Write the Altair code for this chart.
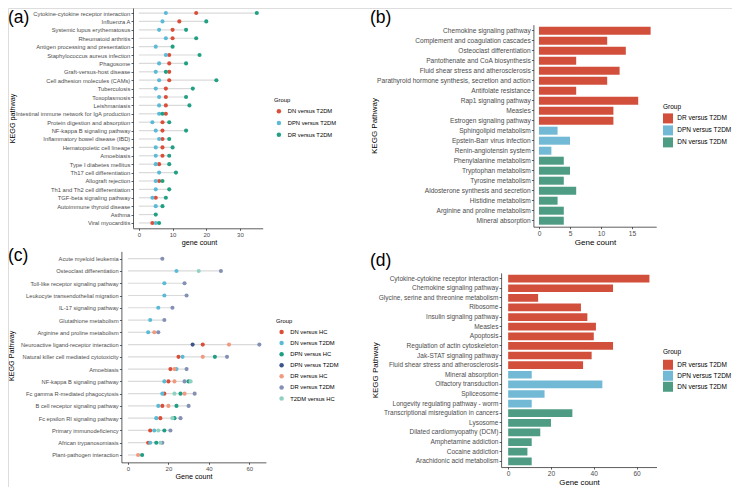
import altair as alt
import pandas as pd

FONT = "Liberation Sans"
OX, OY = 8, 8          # page offset of the svg origin
W, H = 724, 479        # whole drawing area (fits inside the page)

# ---------------- Panel (a) : lollipop ----------------
a_pathways = [
    "Cytokine-cytokine receptor interaction", "Influenza A", "Systemic lupus erythematosus",
    "Rheumatoid arthritis", "Antigen processing and presentation", "Staphylococcus aureus infection",
    "Phagosome", "Graft-versus-host disease", "Cell adhesion molecules (CAMs)", "Tuberculosis",
    "Toxoplasmosis", "Leishmaniasis", "Intestinal immune network for IgA production",
    "Protein digestion and absorption", "NF-kappa B signaling pathway",
    "Inflammatory bowel disease (IBD)", "Hematopoietic cell lineage", "Amoebiasis",
    "Type I diabetes mellitus", "Th17 cell differentiation", "Allograft rejection",
    "Th1 and Th2 cell differentiation", "TGF-beta signaling pathway",
    "Autoimmune thyroid disease", "Asthma", "Viral myocarditis"]
a_groups = ["DN versus T2DM", "DPN versus T2DM", "DR versus T2DM"]
a_dn = [17, 12, 10, 10, None, 9, 9, 9, 9, 8, 8, 8, 8, 7, 7, 7, 7, 7, 6, None, 6, None, 5, None, None, 4]
a_dpn = [8, 7, 6, 8, 5, 8, 6, 5, 6, 5, 6, 6, 6, 4, 5, 6, 5, 5, 5, 6, 5, 5, 4, 5, None, 5]
a_dr = [35, 20, 14, 17, 10, 18, 14, 8, 23, 16, 14, 15, 7, 9, 14, 9, 10, 9, 9, 11, 7, 9, 8, 7, 5, 6]
a_colors = ["#DA4F39", "#5DBAD6", "#22A083"]
a_ticks = [0, 10, 20, 30]

# ---------------- Panel (b) : bars ----------------
b_pathways = [
    "Chemokine signaling pathway", "Complement and coagulation cascades",
    "Osteoclast differentiation", "Pantothenate and CoA biosynthesis",
    "Fluid shear stress and atherosclerosis",
    "Parathyroid hormone synthesis, secretion and action", "Antifolate resistance",
    "Rap1 signaling pathway", "Measles", "Estrogen signaling pathway",
    "Sphingolipid metabolism", "Epstein-Barr virus infection", "Renin-angiotensin system",
    "Phenylalanine metabolism", "Tryptophan metabolism", "Tyrosine metabolism",
    "Aldosterone synthesis and secretion", "Histidine metabolism",
    "Arginine and proline metabolism", "Mineral absorption"]
b_counts = [18, 11, 14, 6, 13, 11, 6, 16, 12, 12, 3, 5, 2, 4, 5, 4, 6, 3, 4, 4]
b_group_of = ["DR versus T2DM"] * 10 + ["DPN versus T2DM"] * 3 + ["DN versus T2DM"] * 7
bar_groups = ["DR versus T2DM", "DPN versus T2DM", "DN versus T2DM"]
bar_colors = ["#D24F3C", "#72B9D6", "#4E9C83"]
b_ticks = [0, 5, 10, 15]

# ---------------- Panel (c) : lollipop ----------------
c_pathways = [
    "Acute myeloid leukemia", "Osteoclast differentiation", "Toll-like receptor signaling pathway",
    "Leukocyte transendothelial migration", "IL-17 signaling pathway", "Glutathione metabolism",
    "Arginine and proline metabolism", "Neuroactive ligand-receptor interaction",
    "Natural killer cell mediated cytotoxicity", "Amoebiasis", "NF-kappa B signaling pathway",
    "Fc gamma R-mediated phagocytosis", "B cell receptor signaling pathway",
    "Fc epsilon RI signaling pathway", "Primary immunodeficiency", "African trypanosomiasis",
    "Plant-pathogen interaction"]
c_groups = ["DN versus HC", "DN versus T2DM", "DPN versus HC", "DPN versus T2DM",
            "DR versus HC", "DR versus T2DM", "T2DM versus HC"]
c_dn_hc = [None, None, None, None, None, None, None, 37, 25, 21, 20, 18, 17, 16, 11, 10, None]
c_dn_t2dm = [None, 24, 18, 18, 15, 11, 10, None, 27, 24, 18, 17, 15, 14, 13, 11, None]
c_dpn_hc = [None, None, None, None, None, None, None, None, 43, None, 30, 26, 24, 23, 18, 14, 7]
c_dpn_t2dm = [None, None, None, None, None, None, None, 32, None, None, None, None, None, None, None, None, None]
c_dr_hc = [None, None, None, None, None, None, 13, 50, 37, 23, 23, 28, 20, None, None, None, 5]
c_dr_t2dm = [17, 46, 28, 29, 22, 18, 15, 65, 49, 29, 28, 33, 30, 26, 21, 17, None]
c_t2dm_hc = [None, 35, None, None, None, None, None, None, None, None, 31, 23, None, 22, 15, 16, None]
c_colors = ["#DC4E37", "#5BBBD6", "#1E9E82", "#3C5488", "#F09A7F", "#8491B4", "#91D1C2"]
c_ticks = [0, 20, 40, 60]

# ---------------- Panel (d) : bars ----------------
d_pathways = [
    "Cytokine-cytokine receptor interaction", "Chemokine signaling pathway",
    "Glycine, serine and threonine metabolism", "Ribosome", "Insulin signaling pathway",
    "Measles", "Apoptosis", "Regulation of actin cytoskeleton", "Jak-STAT signaling pathway",
    "Fluid shear stress and atherosclerosis", "Mineral absorption", "Olfactory transduction",
    "Spliceosome", "Longevity regulating pathway - worm",
    "Transcriptional misregulation in cancers", "Lysosome", "Dilated cardiomyopathy (DCM)",
    "Amphetamine addiction", "Cocaine addiction", "Arachidonic acid metabolism"]
d_counts = [66, 49, 14, 34, 37, 41, 40, 49, 39, 35, 11, 44, 17, 11, 30, 20, 15, 11, 9, 11]
d_group_of = ["DR versus T2DM"] * 10 + ["DPN versus T2DM"] * 4 + ["DN versus T2DM"] * 6
d_ticks = [0, 20, 40, 60]

panel_labels = ["(a)", "(b)", "(c)", "(d)"]


def long_df(pathways, groups, series):
    rows = []
    for g, vals in zip(groups, series):
        for p, v in zip(pathways, vals):
            if v is not None:
                rows.append({"pathway": p, "group": g, "count": v})
    return pd.DataFrame(rows)


def seg_df(pathways, series):
    rows = []
    for i, p in enumerate(pathways):
        vals = [s[i] for s in series if s[i] is not None]
        rows.append({"pathway": p, "start": 0, "end": max(vals)})
    return pd.DataFrame(rows)


def cy(y):
    # slight vertical compression of the lower row so that it fits the page
    return 245 + (y - 245) * 0.96


AX = dict(labelFont=FONT, labelColor="#4D4D4D", domainColor="#1A1A1A", domainWidth=0.7,
          tickColor="#1A1A1A", tickWidth=0.7, tickSize=2, grid=False,
          titleFont=FONT, titleFontWeight="normal", titleColor="#000000",
          titleAlign="center", titleBaseline="middle", labelOverlap=False)


def x_axis(y_page, values, lsize, title, tx, ty, tsize):
    return alt.Axis(orient="bottom", offset=(y_page - OY) - H, values=values, format="d",
                    labelFontSize=lsize, labelPadding=1.5, labelFlush=False,
                    title=title, titleX=tx - OX, titleY=ty - y_page, titleAngle=0,
                    titleFontSize=tsize, **AX)


def y_axis(x_page, lsize, title, tx, ty, tsize):
    return alt.Axis(orient="left", offset=-(x_page - OX), labelFontSize=lsize,
                    labelPadding=1.2, labelLimit=400, bandPosition=0.5,
                    title=title, titleX=tx - x_page, titleY=ty - OY, titleAngle=270,
                    titleFontSize=tsize, **AX)


def legend(lx, ly, fsize, tpad, rpad, stype, ssize, soff, loff):
    return alt.Legend(orient="none", legendX=lx - OX, legendY=ly - OY, title="Group",
                      titleFont=FONT, titleFontSize=fsize, titleFontWeight="normal",
                      titleColor="#000000", titlePadding=tpad, labelFont=FONT,
                      labelFontSize=fsize, labelColor="#000000", rowPadding=rpad,
                      symbolType=stype, symbolSize=ssize, symbolStrokeWidth=0,
                      symbolOffset=soff, labelOffset=loff, symbolOpacity=1)


def vr(a, b, off):
    return [a - off, b - off]


# ---------- (a) ----------
a_x = alt.Scale(domain=[-1.75, 36.75], range=vr(133, 262.7, OX), nice=False, zero=False)
a_y = alt.Scale(type="point", domain=a_pathways, range=vr(8, 228, OY), padding=0.6)
a_series = [a_dn, a_dpn, a_dr]
a_seg = alt.Chart(seg_df(a_pathways, a_series)).mark_rule(color="#DADADA", strokeWidth=1.2).encode(
    x=alt.X("start:Q", scale=a_x, axis=None),
    x2="end:Q",
    y=alt.Y("pathway:N", scale=a_y, axis=None, sort=None))
a_pts = alt.Chart(long_df(a_pathways, a_groups, a_series)).mark_circle(size=17, opacity=1).encode(
    x=alt.X("count:Q", scale=a_x, axis=x_axis(228.3, a_ticks, 6, "gene count", 199, 242.5, 7.2)),
    y=alt.Y("pathway:N", scale=a_y, sort=None,
            axis=y_axis(133, 5.8, "KEGG pathway", 12.5, 118, 7.2)),
    color=alt.Color("group:N", scale=alt.Scale(domain=a_groups, range=a_colors),
                    legend=legend(274, 97, 5.8, 5.6, 4.7, "circle", 20, 2, 6)))

# ---------- (b) ----------
b_df = pd.DataFrame({"pathway": b_pathways, "count": b_counts, "group": b_group_of})
b_x = alt.Scale(domain=[-0.9, 18.9], range=vr(533.4, 656.2, OX), nice=False, zero=False)
b_y = alt.Scale(type="band", domain=b_pathways, range=vr(24.7, 226.7, OY),
                paddingInner=0.2, paddingOuter=0.2)
b_bars = alt.Chart(b_df).mark_bar(opacity=1).encode(
    x=alt.X("count:Q", scale=b_x, axis=x_axis(226.7, b_ticks, 6.6, "Gene count", 595, 242.3, 8)),
    y=alt.Y("pathway:N", scale=b_y, sort=None,
            axis=y_axis(533.4, 6.6, "KEGG Pathway", 374.5, 125.5, 8)),
    color=alt.Color("group:N", scale=alt.Scale(domain=bar_groups, range=bar_colors),
                    legend=legend(663, 103.5, 6.5, 3.4, 2, "square", 100, 0, 4.2)))

# ---------- (c) ----------
c_series = [c_dn_hc, c_dn_t2dm, c_dpn_hc, c_dpn_t2dm, c_dr_hc, c_dr_t2dm, c_t2dm_hc]
c_x = alt.Scale(domain=[-3.25, 68.25], range=vr(121.4, 265.9, OX), nice=False, zero=False)
c_y = alt.Scale(type="point", domain=c_pathways, range=vr(cy(251.6), cy(471.4), OY), padding=0.6)
c_seg = alt.Chart(seg_df(c_pathways, c_series)).mark_rule(color="#DADADA", strokeWidth=1.2).encode(
    x=alt.X("start:Q", scale=c_x, axis=None),
    x2="end:Q",
    y=alt.Y("pathway:N", scale=c_y, axis=None, sort=None))
c_pts = alt.Chart(long_df(c_pathways, c_groups, c_series)).mark_circle(size=17, opacity=1).encode(
    x=alt.X("count:Q", scale=c_x,
            axis=x_axis(cy(471.4), c_ticks, 6, "Gene count", 193.5, cy(486), 7.2)),
    y=alt.Y("pathway:N", scale=c_y, sort=None,
            axis=y_axis(121.4, 5.7, "KEGG Pathway", 11.5, cy(360), 7.2)),
    color=alt.Color("group:N", scale=alt.Scale(domain=c_groups, range=c_colors),
                    legend=legend(276, cy(321), 5.8, 5.3, 4.1, "circle", 20, 2.7, 5.8)))

# ---------- (d) ----------
d_df = pd.DataFrame({"pathway": d_pathways, "count": d_counts, "group": d_group_of})
d_x = alt.Scale(domain=[-3.3, 69.3], range=vr(501.1, 656.5, OX), nice=False, zero=False)
d_y = alt.Scale(type="band", domain=d_pathways, range=vr(cy(274), cy(476.3), OY),
                paddingInner=0.2, paddingOuter=0.2)
d_bars = alt.Chart(d_df).mark_bar(opacity=1).encode(
    x=alt.X("count:Q", scale=d_x,
            axis=x_axis(cy(476.3), d_ticks, 6.6, "Gene count", 579, cy(492), 7.8)),
    y=alt.Y("pathway:N", scale=d_y, sort=None,
            axis=y_axis(501.1, 6.5, "KEGG Pathway", 375, cy(375), 8)),
    color=alt.Color("group:N", scale=alt.Scale(domain=bar_groups, range=bar_colors),
                    legend=legend(663, cy(353.2), 6.5, 4.4, 1.0, "square", 100, 0, 4.2)))

# ---------- panel letters (top of text) ----------
letter_pos = [(8, 8.5), (370, 8.5), (8, cy(247)), (370, cy(252))]
letters = []
for lab, (px, py) in zip(panel_labels, letter_pos):
    letters.append(
        alt.Chart(pd.DataFrame({"t": [lab]})).mark_text(
            font=FONT, fontSize=17.5, align="left", baseline="top", color="#000000"
        ).encode(text="t:N", x=alt.value(px - OX), y=alt.value(py - OY)))

chart = alt.layer(a_seg, a_pts, b_bars, c_seg, c_pts, d_bars, *letters).resolve_scale(
    x="independent", y="independent", color="independent"
).resolve_axis(x="independent", y="independent").resolve_legend(color="independent").properties(
    width=W, height=H, padding=0, autosize=alt.AutoSizeParams(type="none")
).configure_view(stroke=None).configure(background="white")

chart.save("out.html", embed_options={"renderer": "svg", "actions": False})
